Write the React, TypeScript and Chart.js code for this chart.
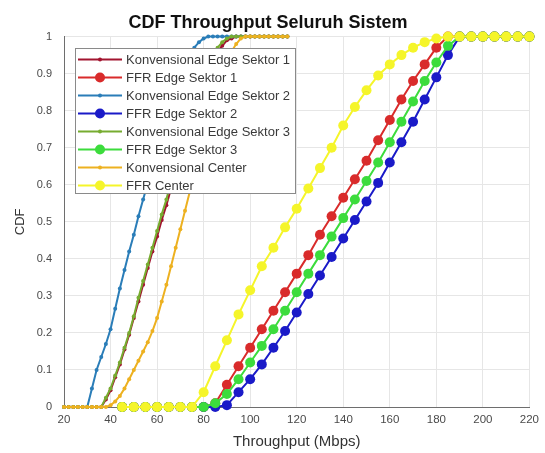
import React, { useEffect, useRef } from "react";
import { Chart, registerables } from "chart.js";

Chart.register(...registerables);

// ---- data ----
const seriesNames = [
  "Konvensional Edge Sektor 1",
  "FFR Edge Sektor 1",
  "Konvensional Edge Sektor 2",
  "FFR Edge Sektor 2",
  "Konvensional Edge Sektor 3",
  "FFR Edge Sektor 3",
  "Konvensional Center",
  "FFR Center",
];

const konvX = [
  20, 22, 24, 26, 28, 30, 32, 34, 36, 38, 40, 42, 44, 46, 48, 50, 52, 54, 56, 58, 60, 62, 64, 66, 68,
  70, 72, 74, 76, 78, 80, 82, 84, 86, 88, 90, 92, 94, 96, 98, 100, 102, 104, 106, 108, 110, 112, 114, 116,
];

const konv1Y = [
  0, 0, 0, 0, 0, 0, 0, 0, 0,
  0.02, 0.045, 0.08, 0.115, 0.155, 0.195, 0.24, 0.285, 0.33, 0.375, 0.42, 0.46, 0.505, 0.545, 0.59,
  0.635, 0.68, 0.725, 0.765, 0.805, 0.845, 0.88, 0.91, 0.94, 0.96, 0.975, 0.99, 0.995,
  1, 1, 1, 1, 1, 1, 1, 1, 1, 1, 1, 1,
];

const konv2Y = [
  0, 0, 0, 0, 0, 0,
  0.05, 0.1, 0.135, 0.17, 0.21, 0.265, 0.32, 0.37, 0.42, 0.465, 0.515, 0.56, 0.605, 0.65, 0.695,
  0.74, 0.78, 0.82, 0.86, 0.895, 0.925, 0.95, 0.97, 0.985, 0.995,
  1, 1, 1, 1, 1, 1, 1, 1, 1, 1, 1, 1, 1, 1, 1, 1, 1, 1,
];

const konv3Y = [
  0, 0, 0, 0, 0, 0, 0, 0, 0,
  0.025, 0.05, 0.085, 0.12, 0.16, 0.2, 0.245, 0.295, 0.34, 0.385, 0.43, 0.475, 0.52, 0.56, 0.61,
  0.66, 0.705, 0.75, 0.79, 0.83, 0.87, 0.9, 0.93, 0.95, 0.97, 0.985, 0.995,
  1, 1, 1, 1, 1, 1, 1, 1, 1, 1, 1, 1, 1,
];

const konvCY = [
  0, 0, 0, 0, 0, 0, 0, 0, 0, 0,
  0.005, 0.015, 0.03, 0.05, 0.075, 0.1, 0.125, 0.15, 0.175, 0.205, 0.24, 0.285, 0.33, 0.38, 0.43,
  0.48, 0.53, 0.58, 0.63, 0.68, 0.73, 0.775, 0.82, 0.86, 0.9, 0.93, 0.96, 0.98, 0.995,
  1, 1, 1, 1, 1, 1, 1, 1, 1, 1,
];

const ffrX = [
  45, 50, 55, 60, 65, 70, 75, 80, 85, 90, 95, 100, 105, 110, 115, 120, 125, 130, 135, 140, 145, 150,
  155, 160, 165, 170, 175, 180, 185, 190, 195, 200, 205, 210, 215, 220,
];

const ffr1Y = [
  0, 0, 0, 0, 0, 0, 0, 0,
  0.01, 0.06, 0.11, 0.16, 0.21, 0.26, 0.31, 0.36, 0.41, 0.465, 0.515, 0.565, 0.615, 0.665, 0.72,
  0.775, 0.83, 0.88, 0.925, 0.97,
  1, 1, 1, 1, 1, 1, 1, 1,
];

const ffr2Y = [
  0, 0, 0, 0, 0, 0, 0, 0,
  0, 0.005, 0.04, 0.075, 0.115, 0.16, 0.205, 0.255, 0.305, 0.355, 0.405, 0.455, 0.505, 0.555, 0.605,
  0.66, 0.715, 0.77, 0.83, 0.89, 0.95,
  1, 1, 1, 1, 1, 1, 1,
];

const ffr3Y = [
  0, 0, 0, 0, 0, 0, 0, 0,
  0.01, 0.035, 0.075, 0.12, 0.165, 0.21, 0.26, 0.31, 0.36, 0.41, 0.46, 0.51, 0.56, 0.61, 0.66,
  0.715, 0.77, 0.825, 0.88, 0.93, 0.975,
  1, 1, 1, 1, 1, 1, 1,
];

const ffrCY = [
  0, 0, 0, 0, 0, 0, 0,
  0.04, 0.11, 0.18, 0.25, 0.315, 0.38, 0.43, 0.485, 0.535, 0.59, 0.645, 0.7, 0.76, 0.81, 0.855,
  0.895, 0.925, 0.95, 0.97, 0.985, 0.995,
  1, 1, 1, 1, 1, 1, 1, 1,
];

const xTickValues = [20, 40, 60, 80, 100, 120, 140, 160, 180, 200, 220];
const yTickValues = [0, 0.1, 0.2, 0.3, 0.4, 0.5, 0.6, 0.7, 0.8, 0.9, 1];

// ---- styles ----
const colors = ["#A2142F", "#D92B2B", "#2A7DB8", "#1A1AC8", "#77AC30", "#3CDC3C", "#EDB120", "#F5F52A"];
const radii = [2, 5, 2, 5, 2, 5, 2, 5];

const toPoints = (xs: number[], ys: number[]) => xs.map((x, i) => ({ x, y: ys[i] }));

const legendPlugin = {
  id: "boxLegend",
  afterDraw(chart: any) {
    const { ctx, chartArea } = chart;
    const x0 = Math.round(chartArea.left + 11);
    const y0 = Math.round(chartArea.top + 11);
    const w = 220;
    const rowH = 18;
    const ds = chart.data.datasets;
    const h = 145;
    ctx.save();
    ctx.fillStyle = "#ffffff";
    ctx.fillRect(x0, y0, w, h);
    ctx.strokeStyle = "#8a8a8a";
    ctx.lineWidth = 1;
    ctx.strokeRect(x0 + 0.5, y0 + 0.5, w, h);
    ds.forEach((d: any, i: number) => {
      const cy = y0 + 11.5 + i * rowH;
      ctx.strokeStyle = d.borderColor;
      ctx.lineWidth = d.borderWidth;
      ctx.beginPath();
      ctx.moveTo(x0 + 3, cy);
      ctx.lineTo(x0 + 47, cy);
      ctx.stroke();
      ctx.fillStyle = d.pointBackgroundColor;
      ctx.beginPath();
      ctx.arc(x0 + 25, cy, d.pointRadius, 0, Math.PI * 2);
      ctx.fill();
      ctx.fillStyle = "#3a3a3a";
      ctx.font = '13px "Liberation Sans", Arial, sans-serif';
      ctx.textBaseline = "middle";
      ctx.textAlign = "left";
      ctx.fillText(d.label, x0 + 51, cy + 0.5);
    });
    ctx.restore();
  },
};

export default function App() {
  const canvasRef = useRef<HTMLCanvasElement | null>(null);

  useEffect(() => {
    document.body.style.margin = "0";
    const canvas = canvasRef.current;
    if (!canvas) return;

    const seriesData = [
      toPoints(konvX, konv1Y),
      toPoints(ffrX, ffr1Y),
      toPoints(konvX, konv2Y),
      toPoints(ffrX, ffr2Y),
      toPoints(konvX, konv3Y),
      toPoints(ffrX, ffr3Y),
      toPoints(konvX, konvCY),
      toPoints(ffrX, ffrCY),
    ];

    const datasets = seriesNames.map((name, i) => ({
      label: name,
      data: seriesData[i],
      borderColor: colors[i],
      backgroundColor: colors[i],
      pointBackgroundColor: colors[i],
      pointBorderColor: colors[i],
      pointRadius: radii[i],
      pointBorderWidth: 0,
      borderWidth: 2,
      tension: 0,
      fill: false,
      clip: false as any,
      order: seriesNames.length - i,
    }));

    const font = '"Liberation Sans", Arial, sans-serif';

    const chart = new Chart(canvas, {
      type: "line",
      data: { datasets },
      options: {
        animation: false,
        responsive: false,
        devicePixelRatio: 1,
        layout: { padding: { left: 0, right: 9, top: 0, bottom: 0 } },
        plugins: {
          legend: { display: false },
          tooltip: { enabled: false },
          title: {
            display: true,
            text: "CDF Throughput Seluruh Sistem",
            color: "#111111",
            font: { family: font, size: 18, weight: "bold" },
            padding: { top: 12, bottom: 3 },
          },
        },
        scales: {
          x: {
            type: "linear",
            min: 20,
            max: 220,
            afterBuildTicks: (scale: any) => {
              scale.ticks = xTickValues.map((v) => ({ value: v }));
            },
            afterFit: (scale: any) => {
              scale.height = 46;
            },
            ticks: {
              color: "#4a4a4a",
              font: { family: font, size: 11.5 },
              padding: 6,
              maxRotation: 0,
              autoSkip: false,
            },
            grid: { color: "#e6e6e6", drawTicks: false },
            border: { color: "#6e6e6e", width: 1 },
            title: {
              display: true,
              text: "Throughput (Mbps)",
              color: "#333333",
              font: { family: font, size: 15 },
              padding: { top: 0, bottom: 2 },
            },
          },
          y: {
            type: "linear",
            min: 0,
            max: 1,
            afterBuildTicks: (scale: any) => {
              scale.ticks = yTickValues.map((v) => ({ value: v }));
            },
            afterFit: (scale: any) => {
              scale.width = 64;
            },
            ticks: {
              color: "#4a4a4a",
              font: { family: font, size: 11 },
              padding: 12,
              autoSkip: false,
              callback: (v: any) => String(Math.round(Number(v) * 10) / 10),
            },
            grid: { color: "#e6e6e6", drawTicks: false },
            border: { color: "#6e6e6e", width: 1 },
            title: {
              display: true,
              text: "CDF",
              color: "#333333",
              font: { family: font, size: 13 },
              padding: { top: 13, bottom: 0 },
            },
          },
        },
      },
      plugins: [legendPlugin],
    });

    return () => {
      chart.destroy();
    };
  }, []);

  return (
    <div style={{ width: 545, height: 453, background: "#ffffff" }}>
      <canvas ref={canvasRef} width={545} height={453} style={{ display: "block" }} />
    </div>
  );
}
